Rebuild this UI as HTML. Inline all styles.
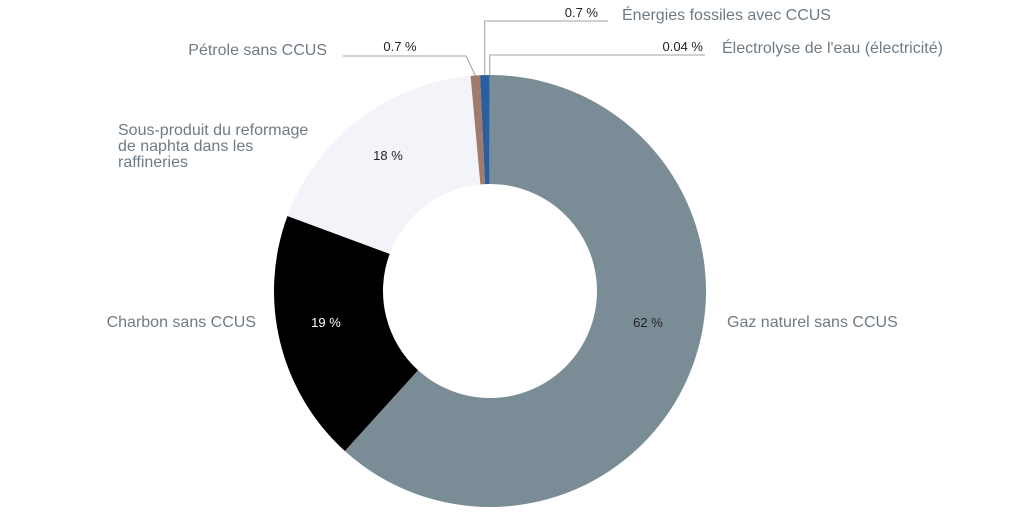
<!DOCTYPE html>
<html><head><meta charset="utf-8"><style>
body{margin:0;background:#fff;width:1024px;height:512px;overflow:hidden;font-family:"Liberation Sans",sans-serif}
</style></head><body>
<svg width="1024" height="512">
<g id="slices"></g>
<g id="labels"></g>
</svg>
<script>
const categories=["Gaz naturel sans CCUS","Charbon sans CCUS","Sous-produit du reformage de naphta dans les raffineries","Pétrole sans CCUS","Énergies fossiles avec CCUS","Électrolyse de l'eau (électricité)"];
const values=[62,19,18,0.7,0.7,0.04];
const valueLabels=["62 %","19 %","18 %","0.7 %","0.7 %","0.04 %"];
const colors=["#7a8d97","#000000","#f3f4f9","#a07b6b","#2d5e9c","#5aa0d8"];
const NS="http://www.w3.org/2000/svg";
const cx=490,cy=291,R=216,r=107;
const total=values.reduce((a,b)=>a+b,0);
const sg=document.getElementById('slices'),lg=document.getElementById('labels');
function pt(a,rad){return [cx+rad*Math.sin(a),cy-rad*Math.cos(a)];}
let a0=0;const mids=[];
values.forEach((v,i)=>{
 const a1=a0+v/total*2*Math.PI;
 const [x0,y0]=pt(a0,R),[x1,y1]=pt(a1,R),[x2,y2]=pt(a1,r),[x3,y3]=pt(a0,r);
 const lg1=(a1-a0)>Math.PI?1:0;
 const p=document.createElementNS(NS,'path');
 p.setAttribute('d',`M${x0},${y0}A${R},${R} 0 ${lg1} 1 ${x1},${y1}L${x2},${y2}A${r},${r} 0 ${lg1} 0 ${x3},${y3}Z`);
 p.setAttribute('fill',colors[i]);
 
 
 sg.appendChild(p);
 mids.push((a0+a1)/2);a0=a1;
});
function txt(x,y,s,opts){
 const t=document.createElementNS(NS,'text');
 t.setAttribute('x',x);t.setAttribute('y',y);
 t.setAttribute('font-size',opts.size||16);
 t.setAttribute('fill',opts.fill||'#6f7b84');
 t.setAttribute('text-anchor',opts.anchor||'start');
 t.textContent=s;
 
 
 lg.appendChild(t);return t;
}
function line(pts,name){
 const l=document.createElementNS(NS,'polyline');
 l.setAttribute('points',pts.map(p=>p.join(',')).join(' '));
 l.setAttribute('fill','none');l.setAttribute('stroke','#9aa3a9');l.setAttribute('stroke-width','1');
 
 
 lg.appendChild(l);
}
[[0,648,327,'#222'],[1,326,327,'#fff'],[2,388,160,'#222']].forEach(([i,x,y,f])=>{
 txt(x,y,valueLabels[i],{size:13,fill:f,anchor:'middle',name:'value-label-'+i});
});
txt(727,327,categories[0],{name:'label-gaz'});
txt(256,327,categories[1],{anchor:'end',name:'label-charbon'});
txt(118,135,'Sous-produit du reformage',{name:'label-sous-produit-1'});
txt(118,151,'de naphta dans les',{name:'label-sous-produit-2'});
txt(118,167,'raffineries',{name:'label-sous-produit-3'});
const pe=pt(mids[3],R),fo=pt(mids[4],R),el=pt(mids[5],R);
line([[343,56],[466,56],pe],'leader-petrole');
txt(327,55,categories[3],{anchor:'end',name:'label-petrole'});
txt(400,51,valueLabels[3],{size:13,fill:'#222',anchor:'middle',name:'value-petrole'});
line([fo,[fo[0],21],[608,21]],'leader-fossiles-ccus');
txt(622,20,categories[4],{name:'label-fossiles-ccus'});
txt(598,17,valueLabels[4],{size:13,fill:'#222',anchor:'end',name:'value-fossiles-ccus'});
line([el,[el[0],55],[705,55]],'leader-electrolyse');
txt(722,53,categories[5],{name:'label-electrolyse'});
txt(703,51,valueLabels[5],{size:13,fill:'#222',anchor:'end',name:'value-electrolyse'});
</script>
</body></html>
